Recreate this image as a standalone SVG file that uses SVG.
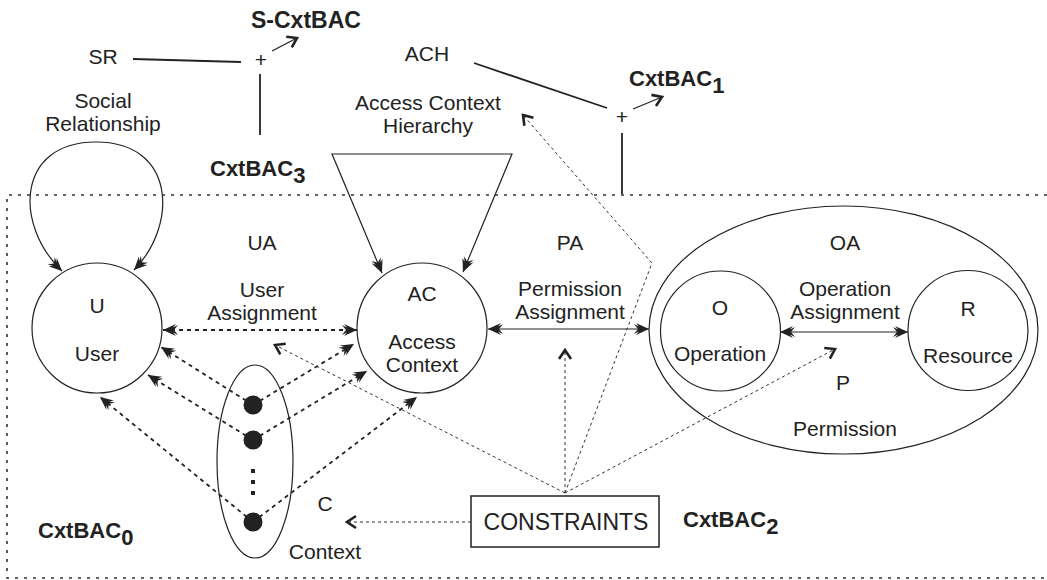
<svg xmlns="http://www.w3.org/2000/svg" width="1047" height="580" viewBox="0 0 1047 580">
<defs>
<style>
text{font-family:"Liberation Sans",Arial,sans-serif;fill:#222;}
.t{font-size:21px;text-anchor:middle;}
.plus{font-size:21px;text-anchor:middle;}
.b{font-size:22px;font-weight:bold;}
.node{fill:none;stroke:#222;stroke-width:1.2;}
.solid{fill:none;stroke:#222;stroke-width:1.2;}
.thick{fill:none;stroke:#222;stroke-width:1.8;}
.dsh{fill:none;stroke:#222;stroke-width:1.8;stroke-dasharray:4 4;}
.thin{fill:none;stroke:#333;stroke-width:1;stroke-dasharray:3 3;}
.border{fill:none;stroke:#333;stroke-width:1.6;stroke-dasharray:3 6;}
</style>
<marker id="fa" viewBox="-16 -7 17 14" refX="0" refY="0" markerWidth="17" markerHeight="14" orient="auto-start-reverse" markerUnits="userSpaceOnUse">
<path d="M0,0 L-13,-6 L-10,-2.5 L-15,-5 L-11,0 L-15,5 L-10,2.5 L-13,6 Z" fill="#222"/>
</marker>
<marker id="oa" viewBox="-12 -8 14 16" refX="0" refY="0" markerWidth="14" markerHeight="16" orient="auto" markerUnits="userSpaceOnUse">
<path d="M-9,-6 L0,0 L-9,6" fill="none" stroke="#222" stroke-width="2.6"/>
</marker>
</defs>
<rect width="1047" height="580" fill="#fff"/>

<g id="border">
<path class="border" d="M1047,195 H7 V578 H1047"/>
</g>

<g id="connectors">
<line class="thick" x1="133" y1="59" x2="241" y2="62"/>
<line class="thick" x1="260" y1="74" x2="260" y2="135"/>
<line class="solid" x1="272" y1="51" x2="297" y2="38" marker-end="url(#oa)"/>
<line class="thick" x1="474" y1="63" x2="607" y2="108"/>
<line class="thick" x1="622" y1="133" x2="622" y2="194"/>
<line class="solid" x1="633" y1="109" x2="662" y2="97" marker-end="url(#oa)"/>
<path class="solid" d="M62,271 C14,225 16,142 96,142 C176,142 178,225 134,270" marker-start="url(#fa)" marker-end="url(#fa)"/>
<path class="solid" d="M382,273 L332,154 L512,154 L463,272" marker-start="url(#fa)" marker-end="url(#fa)"/>
<line class="dsh" x1="163" y1="330" x2="357" y2="330" marker-start="url(#fa)" marker-end="url(#fa)"/>
<line class="solid" x1="488" y1="329" x2="649" y2="329" marker-start="url(#fa)" marker-end="url(#fa)"/>
<line class="solid" x1="780" y1="332" x2="908" y2="332" marker-start="url(#fa)" marker-end="url(#fa)"/>
<line class="dsh" x1="253" y1="405" x2="161" y2="347" marker-end="url(#fa)"/>
<line class="dsh" x1="253" y1="440" x2="148" y2="375" marker-end="url(#fa)"/>
<line class="dsh" x1="253" y1="522" x2="100" y2="397" marker-end="url(#fa)"/>
<line class="dsh" x1="253" y1="405" x2="354" y2="344" marker-end="url(#fa)"/>
<line class="dsh" x1="253" y1="440" x2="367" y2="371" marker-end="url(#fa)"/>
<line class="dsh" x1="253" y1="522" x2="417" y2="397" marker-end="url(#fa)"/>
<line class="thin" x1="471" y1="522" x2="347" y2="522" marker-end="url(#oa)"/>
<line class="thin" x1="565" y1="493" x2="275" y2="345" marker-end="url(#oa)"/>
<line class="thin" x1="565" y1="493" x2="565" y2="350" marker-end="url(#oa)"/>
<polyline class="thin" points="565,493 652,263 523,115" marker-end="url(#oa)"/>
<line class="thin" x1="565" y1="493" x2="835" y2="349" marker-end="url(#oa)"/>
</g>

<g id="labels">
<text class="b" x="251" y="28" style="font-size:23px">S-CxtBAC</text>
<text class="t" x="103" y="64">SR</text>
<text class="plus" x="261" y="67">+</text>
<text class="b" x="210" y="176">CxtBAC<tspan dy="7">3</tspan></text>
<text class="t" x="103" y="108">Social</text>
<text class="t" x="103" y="131">Relationship</text>
<text class="t" x="427" y="61">ACH</text>
<text class="plus" x="622" y="124">+</text>
<text class="b" x="629" y="86">CxtBAC<tspan dy="7">1</tspan></text>
<text class="t" x="428" y="110">Access Context</text>
<text class="t" x="428" y="133">Hierarchy</text>
<text class="t" x="262" y="250">UA</text>
<text class="t" x="262" y="297">User</text>
<text class="t" x="262" y="320">Assignment</text>
<text class="t" x="570" y="250">PA</text>
<text class="t" x="570" y="296">Permission</text>
<text class="t" x="570" y="319">Assignment</text>
<text class="t" x="845" y="250">OA</text>
<text class="t" x="845" y="296">Operation</text>
<text class="t" x="845" y="319">Assignment</text>
<text class="t" x="843" y="390">P</text>
<text class="t" x="845" y="436">Permission</text>
<text class="t" x="325" y="511">C</text>
<text class="t" x="325" y="559">Context</text>
<text class="b" x="38" y="538">CxtBAC<tspan dy="7">0</tspan></text>
<text class="b" x="683" y="527">CxtBAC<tspan dy="7">2</tspan></text>
</g>

<g id="node-U">
<circle class="node" cx="97" cy="328" r="65"/>
<text class="t" x="97" y="313">U</text>
<text class="t" x="97" y="361">User</text>
</g>

<g id="node-AC">
<circle class="node" cx="422" cy="328" r="65"/>
<text class="t" x="422" y="301">AC</text>
<text class="t" x="422" y="349">Access</text>
<text class="t" x="422" y="372">Context</text>
</g>

<g id="node-OA">
<ellipse class="node" cx="843.5" cy="330" rx="194.5" ry="124"/>
</g>

<g id="node-O">
<circle class="node" cx="720.5" cy="331" r="60"/>
<text class="t" x="720" y="315">O</text>
<text class="t" x="720" y="361">Operation</text>
</g>

<g id="node-R">
<circle class="node" cx="968" cy="330.5" r="60"/>
<text class="t" x="968" y="316">R</text>
<text class="t" x="968" y="363">Resource</text>
</g>

<g id="node-C">
<ellipse class="node" cx="255" cy="461.5" rx="38" ry="96.5"/>
<circle cx="253" cy="405" r="9.5" fill="#222"/>
<circle cx="253" cy="440" r="9.5" fill="#222"/>
<circle cx="253" cy="522" r="9.5" fill="#222"/>
<rect x="251" y="469" width="4" height="4" fill="#222"/>
<rect x="251" y="480" width="4" height="4" fill="#222"/>
<rect x="251" y="491" width="4" height="4" fill="#222"/>
</g>

<g id="node-CONSTRAINTS">
<rect x="471" y="496" width="188" height="51" fill="#fff" stroke="#222" stroke-width="1.5"/>
<text class="t" x="566" y="530" style="font-size:23px">CONSTRAINTS</text>
</g>
</svg>
